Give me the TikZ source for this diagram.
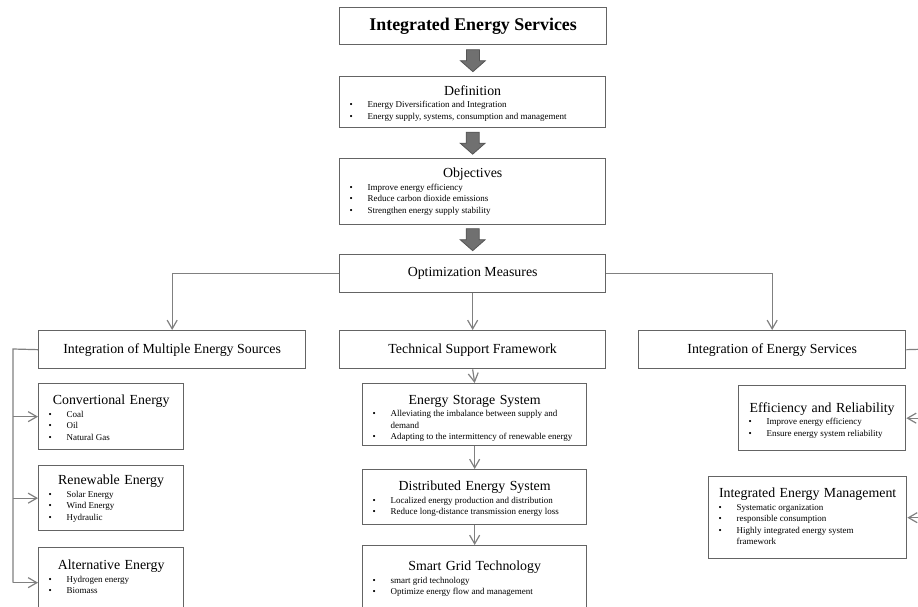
\documentclass[tikz,border=0pt]{standalone}
\usepackage{fontspec}
\setmainfont{Liberation Serif}
\usetikzlibrary{arrows.meta,calc}
\definecolor{boxgray}{RGB}{100,100,100}
\definecolor{linegray}{RGB}{128,128,128}
\definecolor{arrowgray}{RGB}{112,112,112}
\definecolor{arrowedge}{RGB}{85,85,85}
% title line and bullet line inside a panel
\newcommand{\hd}[1]{{\centering\fontsize{10.4}{12}\selectfont #1\par}\vspace{0.8pt}}
\newcommand{\itm}[1]{{\fontsize{6.75}{8.6}\selectfont\spaceskip=0pt\xspaceskip=0pt\noindent\hangindent=21pt\hangafter=1\hbox to 21pt{\hspace{7.5pt}\textbullet\hfil}#1\par}}
\begin{document}
\begin{tikzpicture}[x=0.75pt,y=-0.75pt,
  box/.style={draw=boxgray,line width=1pt,fill=white,anchor=north west,inner sep=0pt},
  head/.style={font=\fontsize{10.4}{12}\selectfont},
  txt/.style={anchor=north,inner sep=0pt,align=left},
  conn/.style={draw=linegray,line width=0.9pt,-{Straight Barb[length=6.5pt,width=7.5pt]}},
  rail/.style={draw=linegray,line width=0.9pt},
  bigarr/.pic={\draw[draw=arrowedge,fill=arrowgray,line width=0.6pt] (-6.5,-11) -- (-6.5,0) -- (-12.5,0) -- (0,11) -- (12.5,0) -- (6.5,0) -- (6.5,-11) -- cycle;}]
\useasboundingbox (0,0) rectangle (918,607);
\clip (0,0) rectangle (918,607);

% main column
\node[box,minimum width=200.25pt,minimum height=27.75pt,font=\bfseries\fontsize{13.4}{16}\selectfont] (ies) at (339,7) {Integrated Energy Services};
\node[box,minimum width=199.5pt,minimum height=38.25pt] (defn) at (339,76) {};
\node[txt,text width=199.5pt] (defn-t) at ($(defn.north)+(0,9)$) {\hd{Definition}\itm{Energy Diversification and Integration}\itm{Energy supply, systems, consumption and management}};
\node[box,minimum width=199.5pt,minimum height=49.5pt] (obj) at (339,158) {};
\node[txt,text width=199.5pt] (obj-t) at ($(obj.north)+(0,10)$) {\hd{Objectives}\itm{Improve energy efficiency}\itm{Reduce carbon dioxide emissions}\itm{Strengthen energy supply stability}};
\node[box,head,minimum width=199.5pt,minimum height=28.5pt] (opt) at (339,254) {Optimization Measures};
\pic at ($(ies.south)!0.5!(defn.north)$) {bigarr};
\pic at ($(defn.south)!0.5!(obj.north)$) {bigarr};
\pic at ($(obj.south)!0.5!(opt.north)$) {bigarr};

% second level
\node[box,head,minimum width=200.25pt,minimum height=28.5pt] (mult) at (38,330) {Integration of Multiple Energy Sources};
\node[box,head,minimum width=199.5pt,minimum height=28.5pt] (tech) at (339,330) {Technical Support Framework};
\node[box,head,minimum width=200.25pt,minimum height=28.5pt] (serv) at (638,330) {Integration of Energy Services};
\draw[conn] (opt.west) -| (mult.north);
\draw[conn] (opt.south) -- (tech.north);
\draw[conn] (opt.east) -| (serv.north);

% left column
\node[box,minimum width=108.75pt,minimum height=49.5pt] (conv) at (38,383) {};
\node[txt,text width=108.75pt] (conv-t) at ($(conv.north)+(0,12)$) {\hd{Convertional Energy}\itm{Coal}\itm{Oil}\itm{Natural Gas}};
\node[box,minimum width=108.75pt,minimum height=48.75pt] (renew) at (38,465) {};
\node[txt,text width=108.75pt] (renew-t) at ($(renew.north)+(0,10)$) {\hd{Renewable Energy}\itm{Solar Energy}\itm{Wind Energy}\itm{Hydraulic}};
\node[box,minimum width=108.75pt,minimum height=52.5pt] (alt) at (38,547) {};
\node[txt,text width=108.75pt] (alt-t) at ($(alt.north)+(0,13)$) {\hd{Alternative Energy}\itm{Hydrogen energy}\itm{Biomass}};
\coordinate (lrail) at (13,349);
\draw[rail] (mult.west) -- (lrail) -- (lrail |- alt.west);
\draw[conn] (lrail |- conv.west) -- (conv.west);
\draw[conn] (lrail |- renew.west) -- (renew.west);
\draw[conn] (lrail |- alt.west) -- (alt.west);

% middle column
\node[box,minimum width=168pt,minimum height=46.5pt] (stor) at (362,383) {};
\node[txt,text width=168pt] (stor-t) at ($(stor.north)+(0,12)$) {\hd{Energy Storage System}\itm{Alleviating the imbalance between supply and\newline demand}\itm{Adapting to the intermittency of renewable energy}};
\node[box,minimum width=168pt,minimum height=41.25pt] (dist) at (362,469) {};
\node[txt,text width=168pt] (dist-t) at ($(dist.north)+(0,12)$) {\hd{Distributed Energy System}\itm{Localized energy production and distribution}\itm{Reduce long-distance transmission energy loss}};
\node[box,minimum width=168pt,minimum height=60pt] (grid) at (362,545) {};
\node[txt,text width=168pt] (grid-t) at ($(grid.north)+(0,16)$) {\hd{Smart Grid Technology}\itm{smart grid technology}\itm{Optimize energy flow and management}};
\draw[conn] (tech.south) -- (stor.north);
\draw[conn] (stor.south) -- (dist.north);
\draw[conn] (dist.south) -- (grid.north);

% right column
\node[box,minimum width=125.25pt,minimum height=48.75pt] (eff) at (738,385) {};
\node[txt,text width=125.25pt] (eff-t) at ($(eff.north)+(0,17)$) {\hd{Efficiency and Reliability}\itm{Improve energy efficiency}\itm{Ensure energy system reliability}};
\node[box,minimum width=148.5pt,minimum height=61.5pt] (mgmt) at (708,476) {};
\node[txt,text width=148.5pt] (mgmt-t) at ($(mgmt.north)+(0,12)$) {\hd{Integrated Energy Management}\itm{Systematic organization}\itm{responsible consumption}\itm{Highly integrated energy system\newline framework}};
\coordinate (rrail) at (930,349);
\draw[rail] (serv.east) -- (rrail) -- (rrail |- mgmt.east);
\draw[conn] (rrail |- eff.east) -- (eff.east);
\draw[conn] (rrail |- mgmt.east) -- (mgmt.east);
\end{tikzpicture}
\end{document}
